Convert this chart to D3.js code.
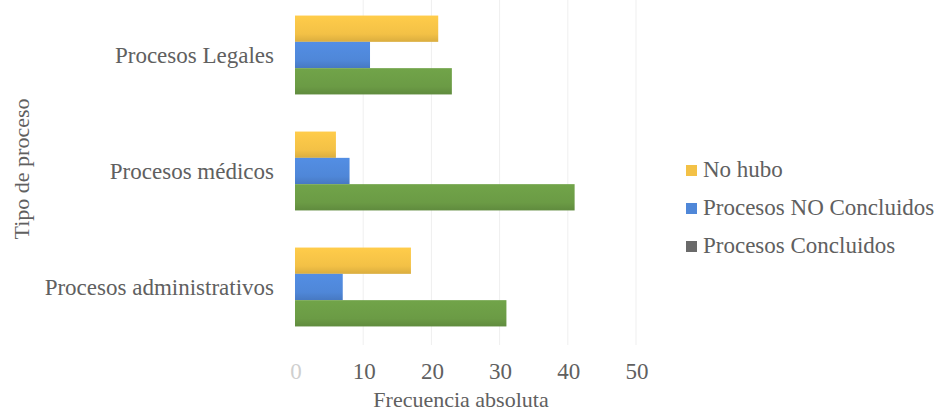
<!DOCTYPE html>
<html><head><meta charset="utf-8">
<script src="https://cdn.jsdelivr.net/npm/d3@7"></script>
<style>body{margin:0;background:#fff}svg{display:block}</style>
</head><body><svg id="c" width="937" height="414"></svg>
<script>
const categories = ["Procesos Legales", "Procesos médicos", "Procesos administrativos"];
const seriesNames = ["No hubo", "Procesos NO Concluidos", "Procesos Concluidos"];
const noHubo = [21, 6, 17];
const noConcluidos = [11, 8, 7];
const concluidos = [23, 41, 31];
const xTicks = [0, 10, 20, 30, 40, 50];
const xTitle = "Frecuencia absoluta";
const yTitle = "Tipo de proceso";

const seriesValues = [noHubo, noConcluidos, concluidos];
const barColors = ["#f3c146", "#4f87d8", "#6b9b45"];
const legendColors = ["#f3c146", "#4f87d8", "#6a6a6a"];
const textColor = "#606060";
const font = "'Liberation Serif', 'Times New Roman', serif";

const svg = d3.select("#c");
const x = d3.scaleLinear().domain([0, 50]).range([295, 636]);
const y = d3.scaleBand().domain(categories).range([-3, 345]).paddingInner(0.32).paddingOuter(0.16);
const ys = d3.scaleBand().domain(seriesNames).range([0, y.bandwidth()]);

// gradients for slight 3D shading
const defs = svg.append("defs");
barColors.forEach((c, i) => {
  const g = defs.append("linearGradient").attr("id", "g" + i).attr("x1", 0).attr("y1", 0).attr("x2", 0).attr("y2", 1);
  g.append("stop").attr("offset", "0%").attr("stop-color", d3.color(c).brighter(0.15));
  g.append("stop").attr("offset", "70%").attr("stop-color", c);
  g.append("stop").attr("offset", "100%").attr("stop-color", d3.color(c).darker(0.3));
});

// gridlines
svg.append("g").selectAll("line").data(xTicks.slice(1)).join("line")
  .attr("x1", d => x(d)).attr("x2", d => x(d)).attr("y1", 0).attr("y2", 345)
  .attr("stroke", "#efefef").attr("stroke-width", 1);

// bars
const groups = svg.append("g").selectAll("g").data(categories).join("g")
  .attr("transform", c => `translate(0,${y(c)})`);
groups.selectAll("rect").data((c, ci) => seriesNames.map((s, si) => ({s, si, v: seriesValues[si][ci]}))).join("rect")
  .attr("x", x(0)).attr("y", d => ys(d.s)).attr("height", ys.bandwidth())
  .attr("width", d => x(d.v) - x(0))
  .attr("fill", d => `url(#g${d.si})`);

// category labels
svg.append("g").selectAll("text").data(categories).join("text")
  .attr("x", 274).attr("y", c => y(c) + y.bandwidth() / 2 + 7.5)
  .attr("text-anchor", "end").attr("font-family", font).attr("font-size", 23)
  .attr("fill", textColor).text(c => c);

// x tick labels
svg.append("g").selectAll("text").data(xTicks).join("text")
  .attr("x", d => x(d) + 1).attr("y", 379)
  .attr("text-anchor", "middle").attr("font-family", font).attr("font-size", 23)
  .attr("fill", d => d === 0 ? "#cfcfcf" : textColor).text(d => d);

// x title
svg.append("text").attr("x", 461).attr("y", 407).attr("text-anchor", "middle")
  .attr("font-family", font).attr("font-size", 22).attr("fill", textColor).text(xTitle);

// y title
svg.append("text").attr("transform", "translate(29,169) rotate(-90)").attr("text-anchor", "middle")
  .attr("font-family", font).attr("font-size", 22).attr("fill", textColor).text(yTitle);

// legend
const leg = svg.append("g").selectAll("g").data(seriesNames).join("g")
  .attr("transform", (d, i) => `translate(686,${177 + i * 38})`);
leg.append("rect").attr("x", 0).attr("y", -12).attr("width", 11).attr("height", 11)
  .attr("fill", (d, i) => legendColors[i]);
leg.append("text").attr("x", 17).attr("y", 0).attr("font-family", font).attr("font-size", 23)
  .attr("fill", textColor).text(d => d);
</script></body></html>
